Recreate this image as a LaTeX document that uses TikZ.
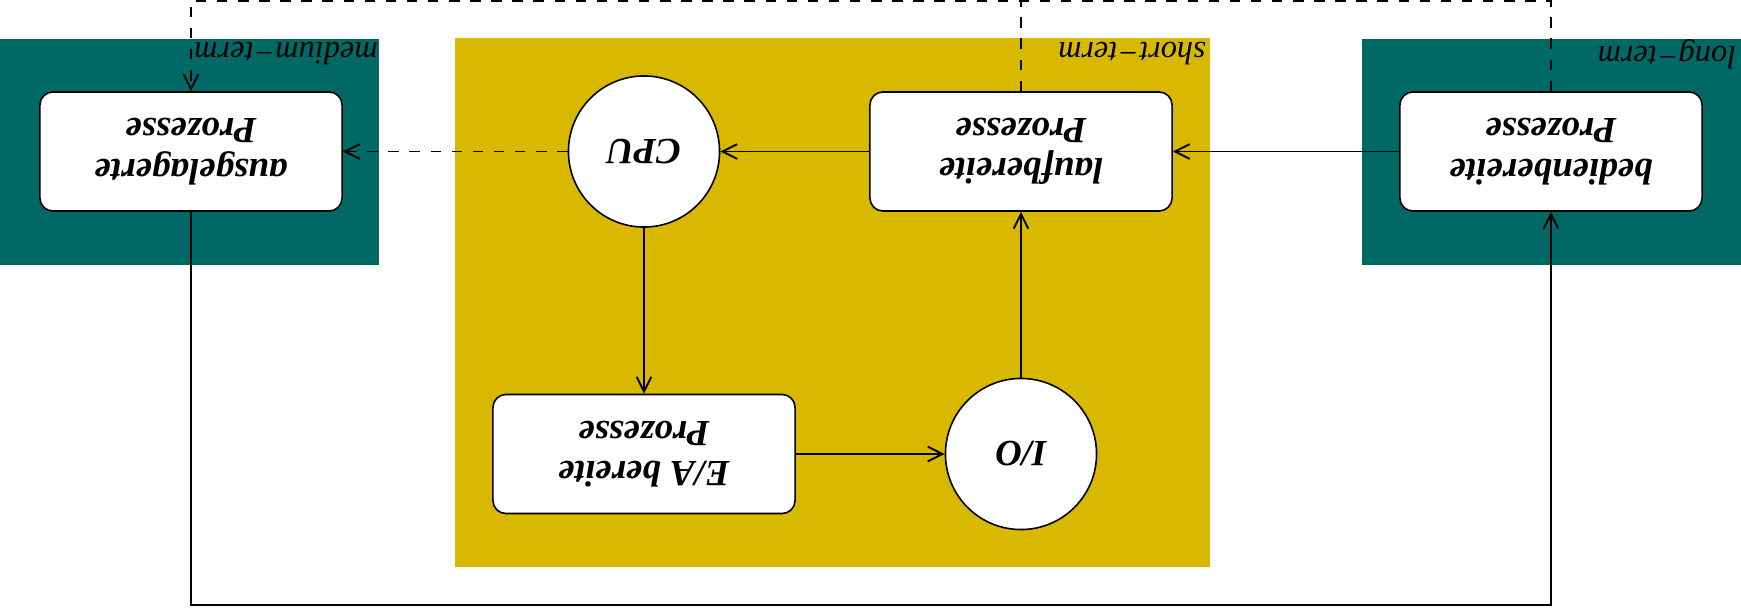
\documentclass[tikz,border=0pt]{standalone}
\usepackage{fontspec}
\setmainfont{Liberation Serif}
\usetikzlibrary{arrows.meta}
\definecolor{tealbg}{RGB}{0,105,102}
\definecolor{goldbg}{RGB}{217,184,0}
\begin{document}
\begin{tikzpicture}[x=0.01cm,y=-0.01cm,
  line width=0.55pt,
  proc/.style={draw=black, line width=0.45pt, fill=white, rounded corners=0.13cm, minimum width=3.02cm, minimum height=1.19cm, align=center, rotate=180, font=\fontsize{10.5}{11.5}\selectfont\bfseries\itshape},
  res/.style={draw=black, line width=0.45pt, fill=white, circle, minimum size=1.51cm, inner sep=0pt, rotate=180, font=\fontsize{10.5}{11.5}\selectfont\bfseries\itshape},
  lbl/.style={rotate=180, inner sep=0pt, font=\fontsize{9.2}{10}\selectfont\itshape},
  arr/.style={-{Straight Barb[length=4.2pt,width=4.2pt]}}]
\useasboundingbox (0,0) rectangle (1741,612);
\fill[tealbg] (0,39) rectangle (379,265);
\fill[goldbg] (455,38) rectangle (1210,567);
\fill[tealbg] (1362,39) rectangle (1741,265);
\node[lbl] (lm) at (286,54) {medium−term};
\node[lbl] (ls) at (1132,54) {short−term};
\node[lbl] (ll) at (1667,54) {long−term};
\node[proc] (aus) at (191,151.5) {ausgelagerte\\Prozesse};
\node[proc] (lauf) at (1021,151.5) {laufbereite\\Prozesse};
\node[proc] (bed) at (1551,151.5) {bedienbereite\\Prozesse};
\node[proc] (ea) at (644,454) {E/A bereite\\Prozesse};
\node[res] (cpu) at (644,151.5) {CPU};
\node[res] (io) at (1021,454) {I/O};
\coordinate (tl) at (191,1);
\coordinate (tr) at (1551,1);
\coordinate (tm) at (1021,1);
\coordinate (bl) at (191,605);
\coordinate (br) at (1551,605);
\draw[arr] (lauf) -- (cpu);
\draw[arr] (bed) -- (lauf);
\draw[arr, dashed] (cpu) -- (aus);
\draw[arr] (cpu) -- (ea);
\draw[arr] (ea) -- (io);
\draw[arr] (io) -- (lauf);
\draw[arr] (aus.north) -- (bl) -- (br) -- (bed.north);
\draw[arr, dashed] (bed.south) -- (tr) -- (tl) -- (aus.south);
\draw[dashed] (lauf.south) -- (tm);
\end{tikzpicture}
\end{document}
